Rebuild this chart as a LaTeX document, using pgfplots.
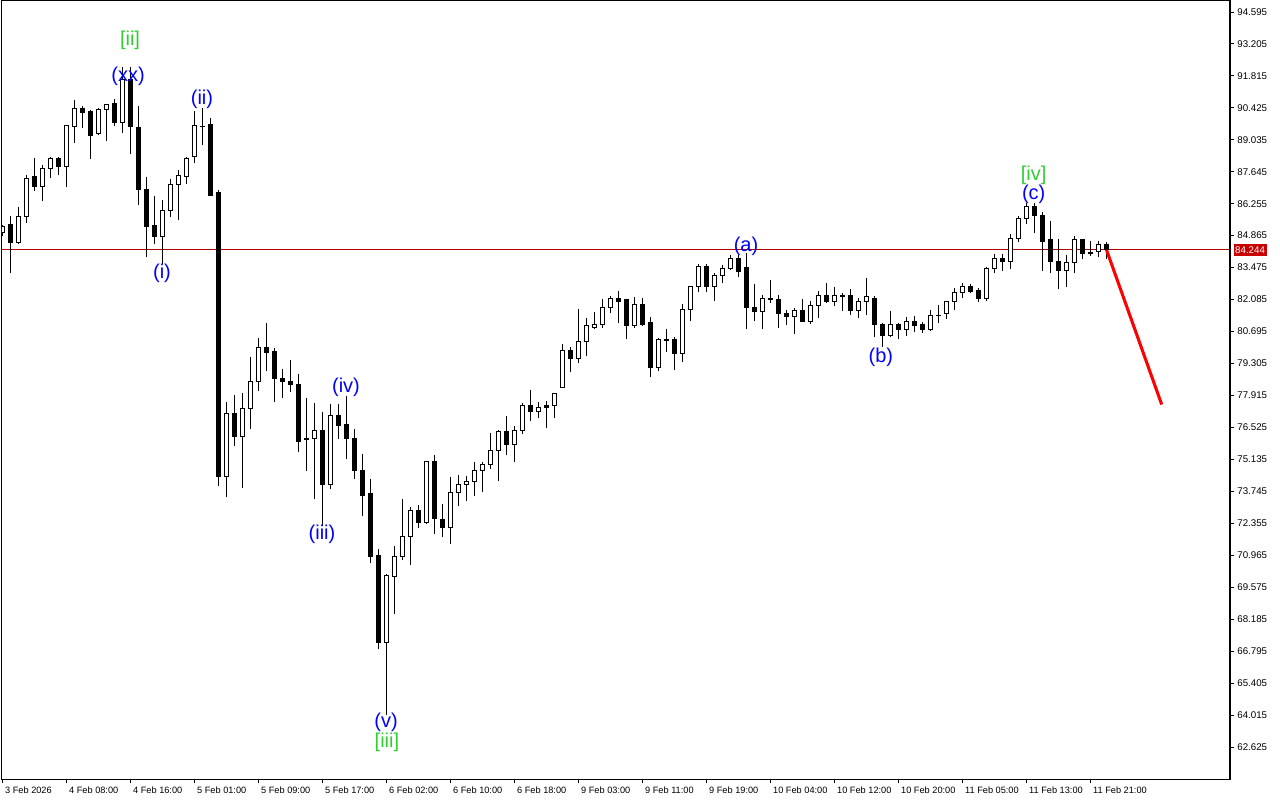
\documentclass[border=0pt]{standalone}
\usepackage{fontspec}
\setmainfont{Liberation Sans}
\usepackage{pgfplots}
\usepackage{pgfplotstable}
\pgfplotsset{compat=1.18}
\usepgfplotslibrary{statistics}

\definecolor{wavblue}{RGB}{0,0,255}
\definecolor{wavgreen}{RGB}{50,205,50}
\definecolor{pricered}{RGB}{180,0,0}
\definecolor{tagred}{RGB}{200,0,0}
\definecolor{trendred}{RGB}{255,0,0}

% H1 candles: bar index, open, high, low, close
\pgfplotstableread{
k o h l c
0 84.98 85.33 84.85 85.24
1 85.33 85.72 83.24 84.55
2 84.55 86.11 84.50 85.68
3 85.68 87.50 85.42 87.37
4 87.42 88.24 86.81 86.98
5 86.98 87.94 86.37 87.77
6 87.77 88.29 87.37 88.24
7 88.24 88.29 87.50 87.85
8 87.85 89.68 86.98 89.64
9 89.59 90.77 88.90 90.38
10 90.38 90.51 89.55 90.20
11 90.25 90.33 88.20 89.24
12 89.29 90.42 89.25 90.33
13 90.33 90.59 88.98 90.55
14 90.59 90.81 89.64 89.77
15 89.77 92.20 89.33 91.64
16 91.64 92.20 88.42 89.59
17 89.55 90.51 86.20 86.85
18 86.85 87.42 83.94 85.24
19 85.29 86.59 84.50 84.81
20 84.81 86.42 83.63 85.94
21 85.94 87.33 85.68 87.11
22 87.11 87.72 85.55 87.46
23 87.42 88.29 87.11 88.20
24 88.29 90.29 88.03 89.64
25 89.59 90.42 88.81 89.62
26 89.68 89.98 86.60 86.63
27 86.72 86.85 73.98 74.37
28 74.37 77.63 73.50 77.11
29 77.11 77.93 75.72 76.11
30 76.11 78.02 73.89 77.33
31 77.33 79.59 76.46 78.54
32 78.50 80.41 78.11 80.02
33 80.02 81.07 78.98 79.76
34 79.81 79.98 77.63 78.63
35 78.63 79.07 77.80 78.50
36 78.54 79.46 78.07 78.41
37 78.37 78.85 75.46 75.93
38 75.98 77.80 74.63 76.06
39 76.06 77.59 73.41 76.41
40 76.41 77.20 72.24 74.06
41 74.06 77.54 73.85 77.06
42 77.06 77.54 76.02 76.59
43 76.63 77.89 75.15 76.02
44 76.06 76.46 74.28 74.63
45 74.67 75.37 72.67 73.58
46 73.63 74.28 70.63 70.89
47 70.93 71.24 66.89 67.15
48 67.15 70.15 64.01 70.06
49 70.02 71.37 68.41 70.89
50 70.89 73.41 70.76 71.76
51 71.76 73.06 70.54 72.89
52 72.89 73.15 72.15 72.37
53 72.37 75.06 72.32 75.02
54 75.02 75.32 71.89 72.54
55 72.50 73.19 71.76 72.19
56 72.19 74.37 71.45 73.67
57 73.67 74.45 73.11 74.06
58 74.06 74.41 73.32 74.19
59 74.19 75.02 73.54 74.63
60 74.63 75.02 73.72 74.89
61 74.89 76.28 74.72 75.54
62 75.54 76.41 74.19 76.33
63 76.33 77.02 75.32 75.76
64 75.76 76.59 75.02 76.41
65 76.41 77.59 76.24 77.46
66 77.46 78.15 76.80 77.20
67 77.20 77.63 76.93 77.41
68 77.46 77.67 76.50 77.41
69 77.46 78.02 76.93 77.98
70 78.28 80.15 78.24 79.85
71 79.85 80.02 78.94 79.50
72 79.50 81.68 79.33 80.28
73 80.28 81.28 79.63 80.94
74 80.89 81.55 80.81 81.02
75 81.02 82.11 80.85 81.72
76 81.72 82.24 81.50 82.15
77 82.15 82.46 81.07 82.02
78 82.07 82.11 80.37 80.94
79 80.94 82.20 80.85 81.89
80 81.89 82.15 80.95 80.98
81 81.07 81.33 78.72 79.15
82 79.15 80.41 78.98 80.33
83 80.33 80.81 79.81 80.31
84 80.33 80.46 79.02 79.72
85 79.72 81.89 79.37 81.63
86 81.63 82.68 81.15 82.63
87 82.63 83.63 82.42 83.50
88 83.50 83.63 82.42 82.63
89 82.63 83.24 82.02 83.15
90 83.15 83.59 82.81 83.42
91 83.42 84.02 83.37 83.85
92 83.89 84.02 83.07 83.29
93 83.46 84.10 80.81 81.76
94 81.76 82.76 81.15 81.55
95 81.55 82.28 80.81 82.15
96 82.15 82.94 81.94 82.07
97 82.07 82.28 80.85 81.46
98 81.46 81.63 80.98 81.33
99 81.33 81.72 80.59 81.59
100 81.59 82.11 81.11 81.15
101 81.15 82.02 81.02 81.81
102 81.81 82.46 81.28 82.28
103 82.28 82.81 81.94 82.02
104 82.02 82.63 81.81 82.24
105 82.24 82.37 81.59 82.22
106 82.28 82.55 81.41 81.59
107 81.59 82.15 81.28 81.98
108 81.98 83.02 81.41 82.20
109 82.15 82.24 80.46 81.02
110 81.02 81.05 80.02 80.50
111 80.50 81.59 80.46 81.02
112 81.02 81.07 80.37 80.76
113 80.76 81.33 80.50 81.15
114 81.15 81.37 80.68 80.94
115 80.98 81.11 80.63 80.76
116 80.76 81.63 80.74 81.41
117 81.39 81.85 81.07 81.41
118 81.46 82.02 81.24 81.98
119 81.98 82.59 81.63 82.37
120 82.37 82.81 82.15 82.63
121 82.63 82.76 82.37 82.42
122 82.46 82.59 81.98 82.15
123 82.15 83.50 82.02 83.42
124 83.42 84.07 83.24 83.85
125 83.85 84.07 83.33 83.76
126 83.76 84.94 83.42 84.76
127 84.72 85.72 84.59 85.59
128 85.59 86.29 85.37 86.11
129 86.11 86.29 84.98 85.76
130 85.76 85.90 83.33 84.63
131 84.68 85.50 83.24 83.72
132 83.72 84.72 82.55 83.33
133 83.33 84.02 82.63 83.68
134 83.68 84.85 83.24 84.68
135 84.68 84.72 83.85 84.07
136 84.11 84.63 83.98 84.07
137 84.16 84.63 83.94 84.50
138 84.50 84.59 83.85 84.244
}\candles

\begin{document}
\begin{tikzpicture}
\begin{axis}[
    width=921pt, height=583.5pt, scale only axis,
    xmin=-0.06, xmax=153.44,
    ymin=61.23, ymax=95.07,
    clip mode=individual,
    boxplot/draw direction=y,
    axis line style={line width=0.75pt},
    tick align=outside,
    major tick length=3pt,
    tick style={black, line width=0.6pt},
    xtick pos=left,
    ytick pos=right,
    yticklabel pos=right,
    xtick={0,8,...,136},
    xticklabels={3 Feb 2026, 4 Feb 08:00, 4 Feb 16:00, 5 Feb 01:00, 5 Feb 09:00,
        5 Feb 17:00, 6 Feb 02:00, 6 Feb 10:00, 6 Feb 18:00, 9 Feb 03:00,
        9 Feb 11:00, 9 Feb 19:00, 10 Feb 04:00, 10 Feb 12:00, 10 Feb 20:00,
        11 Feb 05:00, 11 Feb 13:00, 11 Feb 21:00},
    ytick={62.625,64.015,65.405,66.795,68.185,69.575,70.965,72.355,73.745,75.135,
        76.525,77.915,79.305,80.695,82.085,83.475,84.865,86.255,87.645,89.035,
        90.425,91.815,93.205,94.595},
    xticklabel style={font=\fontsize{6.9}{8}\selectfont, anchor=north west, xshift=-1.5pt, yshift=1pt},
    yticklabel style={font=\fontsize{7.3}{8}\selectfont, anchor=west, xshift=-1pt,
        /pgf/number format/.cd, fixed, fixed zerofill, precision=3, assume math mode=true},
]

% current price line
\addplot[pricered, line width=0.6pt] coordinates {(-1,84.244) (154,84.244)};

% candles: box = open/close body, whiskers = high/low
\pgfplotsforeachungrouped \i in {0,...,138}{%
  \pgfplotstablegetelem{\i}{o}\of\candles \let\cO\pgfplotsretval
  \pgfplotstablegetelem{\i}{h}\of\candles \let\cH\pgfplotsretval
  \pgfplotstablegetelem{\i}{l}\of\candles \let\cL\pgfplotsretval
  \pgfplotstablegetelem{\i}{c}\of\candles \let\cC\pgfplotsretval
  \ifdim\cC pt<\cO pt \def\cf{black}\let\lo\cC\let\hi\cO
  \else \def\cf{white}\let\lo\cO\let\hi\cC\fi
  \edef\tmp{\noexpand\addplot[draw=black, fill=\cf, line width=0.75pt,
      boxplot prepared={draw direction=y, draw position=\i, lower whisker=\cL, lower quartile=\lo,
      median=\lo, upper quartile=\hi, upper whisker=\cH,
      box extend=0.6, whisker extend=0}] coordinates {};}%
  \tmp
}

% projected move
\addplot[trendred, line width=2.3pt] coordinates {(138,84.244) (144.9,77.52)};

% wave labels
\begin{scope}[every node/.style={font=\fontsize{15}{17}\selectfont}]
\node[text=wavgreen] at (axis cs:15.94,93.38) {[ii]};
\node[text=wavblue] at (axis cs:15.69,91.81) {(xx)};
\node[text=wavblue] at (axis cs:24.94,90.81) {(ii)};
\node[text=wavblue] at (axis cs:19.94,83.24) {(i)};
\node[text=wavblue] at (axis cs:42.94,78.28) {(iv)};
\node[text=wavblue] at (axis cs:39.94,71.89) {(iii)};
\node[text=wavblue] at (axis cs:47.94,63.71) {(v)};
\node[text=wavgreen] at (axis cs:48.06,62.84) {[iii]};
\node[text=wavblue] at (axis cs:92.94,84.42) {(a)};
\node[text=wavblue] at (axis cs:109.8,79.59) {(b)};
\node[text=wavgreen] at (axis cs:128.9,87.50) {[iv]};
\node[text=wavblue] at (axis cs:128.9,86.68) {(c)};
\end{scope}

% price tag
\node[fill=tagred, text=white, font=\fontsize{7.3}{8}\selectfont, inner sep=1.2pt,
      anchor=west, minimum height=9.5pt] at ([xshift=2.5pt]axis cs:153.44,84.244) {84.244};
\end{axis}
\draw[line width=1.5pt] (current axis.north east) -- (current axis.south east);
\path[use as bounding box] ([shift={(-1.5pt,-15.75pt)}]current axis.south west)
    rectangle ([shift={(37.5pt,0.75pt)}]current axis.north east);
\end{tikzpicture}
\end{document}
